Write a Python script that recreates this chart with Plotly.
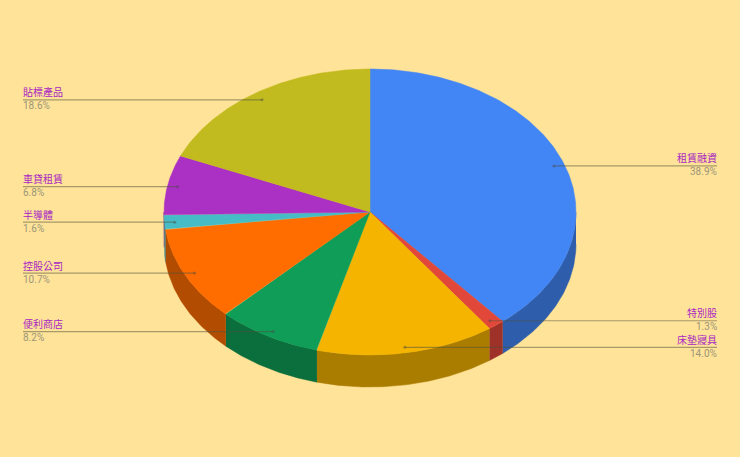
import numpy as np
import plotly.graph_objects as go

labels = ["租賃融資", "特別股", "床墊寢具", "便利商店", "控股公司", "半導體", "車貸租賃", "貼標產品"]
values = [38.9, 1.3, 14.0, 8.2, 10.7, 1.6, 6.8, 18.6]
colors = ["#4285f4", "#e2483a", "#f4b400", "#0f9d58", "#ff6d00", "#46bdc6", "#ab30c4", "#c2bb1f"]
sides = ["#2e5dab", "#9e3228", "#aa7d00", "#0a6e3d", "#b24c00", "#31848a", "#772189", "#878215"]

BG = "#ffe398"
CX, CY = 370, 212  # pie centre, in page pixels
RX, RY = 206, 143
DEPTH = 32


def ellipse(theta):
    # theta is clockwise from 12 o'clock
    return CX + RX * np.sin(theta), CY - RY * np.cos(theta)


shares = np.array(values) / sum(values)
edges = np.concatenate([[0], np.cumsum(shares)]) * 2 * np.pi
mids = (edges[:-1] + edges[1:]) / 2

fig = go.Figure()

# side walls: only the front half of the rim can be seen
for i in range(len(values)):
    a = max(edges[i], np.pi / 2)
    b = min(edges[i + 1], 3 * np.pi / 2)
    if a >= b:
        continue
    t = np.linspace(a, b, 80)
    x, y = ellipse(t)
    fig.add_trace(go.Scatter(
        x=np.concatenate([x, x[::-1]]),
        y=np.concatenate([y, y[::-1] + DEPTH]),
        mode="lines",
        fill="toself",
        fillcolor=sides[i],
        line={"color": sides[i], "width": 0.5},
        hoverinfo="skip",
    ))

# top face
for i in range(len(values)):
    t = np.linspace(edges[i], edges[i + 1], 200)
    x, y = ellipse(t)
    fig.add_trace(go.Scatter(
        x=np.concatenate([[CX], x, [CX]]),
        y=np.concatenate([[CY], y, [CY]]),
        mode="lines",
        fill="toself",
        fillcolor=colors[i],
        line={"color": colors[i], "width": 0.5},
        name=labels[i],
        hoverinfo="name",
    ))

# leader lines and labels
for i in range(len(values)):
    ax = CX + RX * 0.95 * np.sin(mids[i])
    cos = np.cos(mids[i])
    ay = CY - RY * (0.94 if cos > 0 else 0.962) * cos
    right = np.sin(mids[i]) > 0
    end = 717 if right else 23
    text_x = end + 1 if right else end - 1
    fig.add_trace(go.Scatter(
        x=[ax, end],
        y=[ay, ay],
        mode="lines",
        line={"color": "rgba(80,80,60,0.5)", "width": 1.2},
        hoverinfo="skip",
    ))
    fig.add_trace(go.Scatter(
        x=[ax],
        y=[ay],
        mode="markers",
        marker={"color": "rgba(70,70,70,0.4)", "size": 3},
        hoverinfo="skip",
    ))
    anchor = "right" if right else "left"
    fig.add_annotation(x=text_x, y=ay - 8, text=labels[i], showarrow=False, xanchor=anchor, yanchor="middle",
                       font={"family": "Noto Sans CJK TC", "size": 10, "color": "#a826c4"}, borderpad=0)
    fig.add_annotation(x=text_x, y=ay + 6, text="%.1f%%" % values[i], showarrow=False, xanchor=anchor, yanchor="middle",
                       font={"family": "Roboto", "size": 10, "color": "#9c9678"}, borderpad=0)

fig.update_layout(
    width=740,
    height=457,
    margin={"l": 0, "r": 0, "t": 0, "b": 0},
    paper_bgcolor=BG,
    plot_bgcolor=BG,
    showlegend=False,
    xaxis={"range": [0, 740], "visible": False},
    yaxis={"range": [457, 0], "visible": False},
)

# the page's default body margin would shift the chart by 8px
fig.write_html("out.html", config={"displayModeBar": False},
               post_script="document.body.style.margin = '0'; document.body.style.overflow = 'hidden';")
